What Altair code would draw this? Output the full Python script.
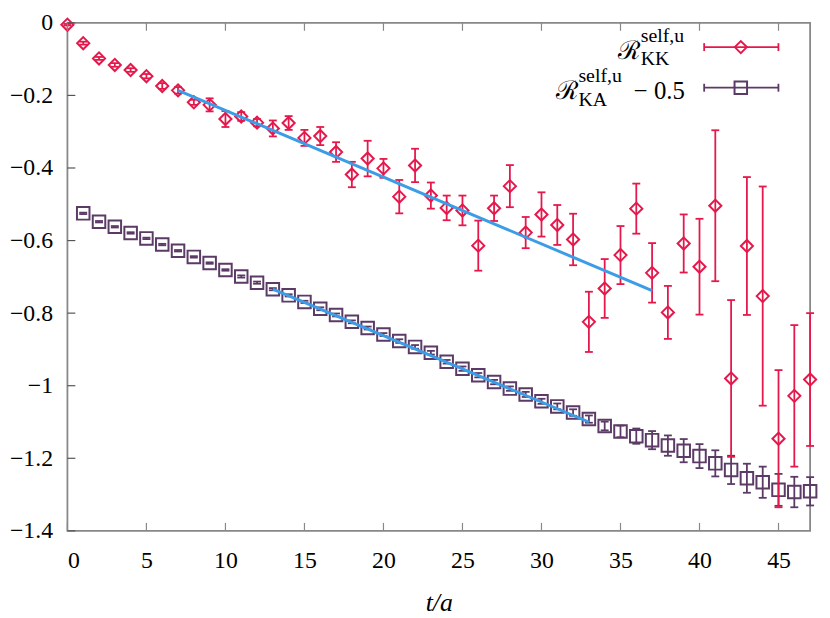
import altair as alt
import pandas as pd

# ---------------- data ----------------
t_kk = list(range(48))
kk = [-0.005, -0.056, -0.098, -0.116, -0.130, -0.147, -0.174, -0.186, -0.219, -0.226,
      -0.265, -0.258, -0.275, -0.291, -0.276, -0.317, -0.312, -0.356, -0.418, -0.374,
      -0.401, -0.479, -0.393, -0.476, -0.510, -0.517, -0.614, -0.511, -0.450, -0.578,
      -0.528, -0.557, -0.597, -0.824, -0.732, -0.640, -0.512, -0.689, -0.798, -0.608,
      -0.672, -0.504, -0.980, -0.615, -0.753, -1.146, -1.028, -0.983]
kk_err = [0.002, 0.004, 0.004, 0.005, 0.005, 0.006, 0.008, 0.009, 0.007, 0.018,
          0.022, 0.012, 0.010, 0.022, 0.019, 0.022, 0.025, 0.027, 0.035, 0.049,
          0.026, 0.046, 0.046, 0.036, 0.034, 0.041, 0.069, 0.035, 0.058, 0.043,
          0.061, 0.055, 0.071, 0.083, 0.081, 0.080, 0.069, 0.082, 0.073, 0.080,
          0.132, 0.208, 0.216, 0.190, 0.302, 0.189, 0.195, 0.183]

t_ka = list(range(1, 48))
ka = [-0.525, -0.548, -0.562, -0.579, -0.594, -0.611, -0.628, -0.645, -0.662, -0.681,
      -0.699, -0.716, -0.734, -0.751, -0.769, -0.788, -0.805, -0.824, -0.841, -0.859,
      -0.877, -0.893, -0.909, -0.934, -0.953, -0.971, -0.990, -1.008, -1.024, -1.043,
      -1.057, -1.074, -1.092, -1.111, -1.126, -1.139, -1.150, -1.165, -1.179, -1.194,
      -1.214, -1.232, -1.255, -1.266, -1.287, -1.293, -1.291]
ka_err = [0.002, 0.002, 0.002, 0.002, 0.002, 0.002, 0.002, 0.002, 0.002, 0.002,
          0.003, 0.003, 0.003, 0.003, 0.003, 0.004, 0.004, 0.004, 0.004, 0.004,
          0.005, 0.005, 0.005, 0.005, 0.006, 0.006, 0.006, 0.006, 0.007, 0.007,
          0.008, 0.009, 0.010, 0.012, 0.016, 0.021, 0.025, 0.028, 0.032, 0.033,
          0.036, 0.039, 0.040, 0.043, 0.044, 0.042, 0.039]

fit_kk_t = [7, 37]
fit_kk_y = [-0.186, -0.738]
fit_ka_t = [13, 33]
fit_ka_y = [-0.734, -1.100]

x_ticks = [0, 5, 10, 15, 20, 25, 30, 35, 40, 45]
y_ticks = [0, -0.2, -0.4, -0.6, -0.8, -1, -1.2, -1.4]

RED = "#e5184b"
PURPLE = "#5b3a66"
BLUE = "#3c9de6"
GRAY = "#888888"
SERIF = "Liberation Serif"

W, H = 750, 513

df_kk = pd.DataFrame({"t": t_kk, "v": kk, "e": kk_err})
df_kk["lo"] = df_kk["v"] - df_kk["e"]
df_kk["hi"] = df_kk["v"] + df_kk["e"]
df_ka = pd.DataFrame({"t": t_ka, "v": ka, "e": ka_err})
df_ka["lo"] = df_ka["v"] - df_ka["e"]
df_ka["hi"] = df_ka["v"] + df_ka["e"]
df_fit = pd.concat([
    pd.DataFrame({"t": fit_kk_t, "v": fit_kk_y, "s": "kk"}),
    pd.DataFrame({"t": fit_ka_t, "v": fit_ka_y, "s": "ka"}),
])

xs = alt.Scale(domain=[0, 47], nice=False, zero=False)
ys = alt.Scale(domain=[-1.4, 0], nice=False, zero=False)

MINUS_EXPR = "datum.value < 0 ? '\u2212' + format(-datum.value, '~g') : format(datum.value, '~g')"

x_axis = alt.Axis(values=x_ticks, labelExpr=MINUS_EXPR, title="t/a",
                  titleFont=SERIF, titleFontStyle="italic", titleFontWeight="normal",
                  titleFontSize=26, titlePadding=17, labelPadding=18,
                  domain=False, ticks=False, grid=False,
                  labelFont=SERIF, labelFontSize=24, labelColor="black")
y_axis = alt.Axis(values=y_ticks, labelExpr=MINUS_EXPR, title=None, labelPadding=15,
                  domain=False, ticks=False, grid=False,
                  labelFont=SERIF, labelFontSize=24, labelColor="black")


def XQ(f):
    return alt.X(f, scale=xs, axis=x_axis, title="t/a")


def YQ(f):
    return alt.Y(f, scale=ys, axis=y_axis, title=None)


def series(df, color, shape, size):
    base = alt.Chart(df)
    bars = base.mark_rule(color=color, strokeWidth=1.8).encode(
        x=XQ("t:Q"), y=YQ("lo:Q"), y2="hi:Q")
    cap_lo = base.mark_rule(color=color, strokeWidth=1.8, xOffset=-4, x2Offset=4).encode(
        x=XQ("t:Q"), x2="t:Q", y=YQ("lo:Q"))
    cap_hi = base.mark_rule(color=color, strokeWidth=1.8, xOffset=-4, x2Offset=4).encode(
        x=XQ("t:Q"), x2="t:Q", y=YQ("hi:Q"))
    pts = base.mark_point(shape=shape, size=size, filled=False, color=color,
                          strokeWidth=2, opacity=1).encode(x=XQ("t:Q"), y=YQ("v:Q"))
    return [bars, cap_lo, cap_hi, pts]


layers = []
layers += series(df_ka, PURPLE, "square", 160)
layers += series(df_kk, RED, "diamond", 150)

fit = alt.Chart(df_fit).mark_line(color=BLUE, strokeWidth=3).encode(
    x=XQ("t:Q"), y=YQ("v:Q"), detail="s:N")
layers.append(fit)

# inward ticks
df_xt = pd.DataFrame({"t": x_ticks})
df_yt = pd.DataFrame({"v": y_ticks})
tick_b = alt.Chart(df_xt).mark_rule(color=GRAY, strokeWidth=1.2).encode(
    x=XQ("t:Q"), y=alt.value(H), y2=alt.value(H - 8))
tick_t = alt.Chart(df_xt).mark_rule(color=GRAY, strokeWidth=1.2).encode(
    x=XQ("t:Q"), y=alt.value(0), y2=alt.value(8))
tick_l = alt.Chart(df_yt).mark_rule(color="#555555", strokeWidth=1.2).encode(
    y=YQ("v:Q"), x=alt.value(0), x2=alt.value(8))
layers += [tick_b, tick_t, tick_l]

# legend (manually built)
leg = []
for yc, color, shape, size in [(24.5, RED, "diamond", 150), (65.5, PURPLE, "square", 160)]:
    one = alt.Chart(pd.DataFrame({"a": [0]}))
    leg.append(one.mark_rule(color=color, strokeWidth=1.8).encode(
        x=alt.value(643), x2=alt.value(718), y=alt.value(yc)))
    leg.append(one.mark_rule(color=color, strokeWidth=1.8).encode(
        x=alt.value(643), y=alt.value(yc - 4), y2=alt.value(yc + 4)))
    leg.append(one.mark_rule(color=color, strokeWidth=1.8).encode(
        x=alt.value(718), y=alt.value(yc - 4), y2=alt.value(yc + 4)))
    leg.append(one.mark_point(shape=shape, size=size, filled=False, color=color,
                              strokeWidth=2, opacity=1).encode(
        x=alt.value(680), y=alt.value(yc)))


def txt(s, x, y, size, style="normal", font=SERIF):
    return alt.Chart(pd.DataFrame({"s": [s]})).mark_text(
        align="left", baseline="alphabetic", font=font, fontSize=size,
        fontStyle=style, color="black").encode(
        text="s:N", x=alt.value(x), y=alt.value(y))


leg += [
    txt("\u211b", 556, 36, 26, "normal", "DejaVu Serif"),
    txt("self,u", 579, 19, 20),
    txt("KK", 579, 43, 20),
    txt("\u211b", 493, 77, 26, "normal", "DejaVu Serif"),
    txt("self,u", 516, 60, 20),
    txt("KA", 516, 84, 20),
    txt("\u2212 0.5", 572, 77, 25),
]
layers += leg

chart = alt.layer(*layers).properties(
    width=W, height=H,
    autosize=alt.AutoSizeParams(type="none"),
    padding={"left": 60, "top": 12, "right": 12, "bottom": 85},
).configure_view(stroke=GRAY, strokeWidth=1.8).configure_axis(
    domain=False, ticks=False, grid=False,
    labelFont=SERIF, labelFontSize=24, labelColor="black",
)

chart.save("out.html", embed_options={"renderer": "svg", "actions": False})
